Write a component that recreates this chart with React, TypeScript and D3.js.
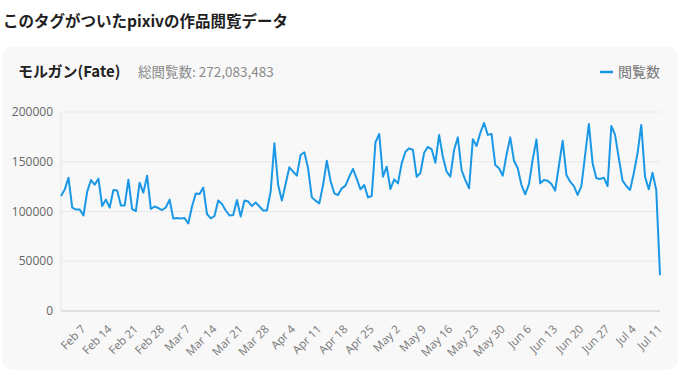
import React from "react";
import * as d3 from "d3";

const START_DATE = "2021-02-01";
const views: number[] = [
  115600, 122000, 134000, 104000, 102000, 102000, 96000, 120000, 131600, 127000,
  133000, 105500, 112000, 104000, 121600, 121000, 106000, 106000, 132000, 102500,
  100500, 129000, 119000, 136000, 102500, 105000, 103500, 101500, 104000, 112000,
  93000, 93500, 93000, 93500, 88000, 105000, 118000, 117500, 124000, 97500,
  93000, 95500, 111000, 107500, 101000, 96000, 96500, 111500, 95000, 111000,
  110000, 105500, 109000, 105000, 101000, 101000, 120000, 168500, 126600, 111000,
  127600, 144400, 140000, 136000, 156800, 159500, 143400, 114200, 110900, 108200,
  126600, 151000, 130600, 118300, 116600, 123300, 126000, 135000, 142700, 132700,
  122300, 126600, 114200, 115600, 169500, 177900, 135000, 145000, 122600, 132300,
  128300, 148400, 160000, 163500, 161800, 135000, 138700, 159000, 165000, 162500,
  149000, 177000, 155000, 140000, 135000, 161800, 174500, 141700, 131600, 123300,
  172500, 165800, 179000, 189000, 177000, 178000, 146700, 143400, 136000, 156800,
  174500, 151000, 143400, 126600, 117300, 127600, 152400, 172500, 128300, 131600,
  131000, 127600, 121000, 146000, 171000, 136700, 130000, 125600, 116600, 125600,
  156800, 188000, 148400, 133400, 132700, 134000, 125600, 186000, 177000, 153500,
  131000, 125600, 121600, 138400, 158500, 187000, 135000, 122300, 139000, 121600,
  36000,
];
const yTicks: number[] = [0, 50000, 100000, 150000, 200000];

const pageTitle = "このタグがついたpixivの作品閲覧データ";
const tagName = "モルガン(Fate)";
const totalLabel = "総閲覧数: 272,083,483";
const seriesName = "閲覧数";

const LATIN = "'Open Sans', 'Noto Sans CJK JP', sans-serif";
const CJK = "'Noto Sans CJK JP', 'Open Sans', sans-serif";

export default function App() {
  const parse = d3.utcParse("%Y-%m-%d");
  const start = parse(START_DATE) as Date;
  const data = views.map((v, i) => ({ date: d3.utcDay.offset(start, i), v }));
  const end = data[data.length - 1].date;

  const left = 61, right = 660, top = 112, bottom = 311;
  const x = d3.scaleUtc().domain([start, end]).range([left, right]);
  const y = d3.scaleLinear().domain([0, 200000]).range([bottom, top]);

  const line = d3
    .line<{ date: Date; v: number }>()
    .x((d) => x(d.date))
    .y((d) => y(d.v));

  const xTicks = d3.utcSunday.range(start, d3.utcDay.offset(end, 1));
  const fmt = d3.utcFormat("%b %-d");

  return (
    <svg
      width={685}
      height={378}
      style={{ position: "absolute", left: 0, top: 0, background: "#fff" }}
    >
      <text x={3} y={27} fontFamily={CJK} fontWeight={700} fontSize={15.5} fill="#1f1f1f">
        {pageTitle}
      </text>
      <rect x={2} y={47} width={676} height={323} rx={10} fill="#f8f8f8" />
      <text x={18} y={77} fontFamily={CJK} fontWeight={700} fontSize={15} fill="#222">
        {tagName}
      </text>
      <text x={138} y={77} fontFamily={CJK} fontSize={13.5} fill="#8a8a8a">
        {totalLabel}
      </text>
      <line x1={600} x2={613} y1={72} y2={72} stroke="#1a98e6" strokeWidth={2.5} />
      <text x={618} y={77} fontFamily={CJK} fontSize={14} fill="#777">
        {seriesName}
      </text>

      {yTicks.map((t) => (
        <g key={t}>
          {t > 0 && (
            <line x1={left} x2={right} y1={y(t)} y2={y(t)} stroke="#e8e8e8" strokeWidth={1} />
          )}
          <text
            x={53}
            y={y(t)}
            dy="0.35em"
            textAnchor="end"
            fontFamily={LATIN}
            fontSize={12}
            fill="#666"
          >
            {t}
          </text>
        </g>
      ))}
      <line x1={left} x2={left} y1={top} y2={bottom} stroke="#e4e4e4" strokeWidth={1} />
      <line x1={left} x2={right} y1={bottom} y2={bottom} stroke="#e0e0e0" strokeWidth={2} />

      {xTicks.map((d) => (
        <text
          key={d.toISOString()}
          transform={`translate(${x(d)},${bottom + 16}) rotate(-45)`}
          textAnchor="end"
          dy="0.35em"
          fontFamily={LATIN}
          fontSize={11.5}
          fill="#777"
        >
          {fmt(d)}
        </text>
      ))}

      <path
        d={line(data) || ""}
        fill="none"
        stroke="#1a98e6"
        strokeWidth={2}
        strokeLinejoin="round"
      />
    </svg>
  );
}
